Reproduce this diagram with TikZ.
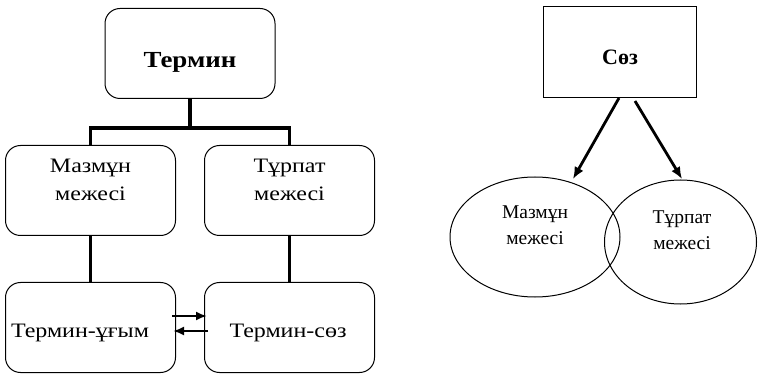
\documentclass[tikz,border=0pt]{standalone}
\usepackage{fontspec}
\setmainfont{Liberation Serif}
\usetikzlibrary{arrows.meta,shapes.geometric}
\newcommand\hstretch[1]{\scalebox{1.17}[1]{#1}}
\begin{document}
\begin{tikzpicture}[x=1pt,y=-1pt,
  rbox/.style={draw,line width=1pt,rounded corners=15pt,minimum width=170pt,minimum height=90pt,inner sep=0pt},
  sqbox/.style={draw,line width=1pt,minimum width=153pt,minimum height=91pt,inner sep=0pt},
  ell/.style={draw,ellipse,line width=1pt,inner sep=0pt},
  lbl/.style={font=\fontsize{20.5}{28}\selectfont,align=center,inner sep=0pt},
  slbl/.style={font=\fontsize{19.5}{26}\selectfont,align=center,inner sep=0pt},
  tree/.style={line width=3.8pt},
  arr/.style={line width=2.5pt,-{Latex[length=11pt,width=9pt]}},
  sarr/.style={line width=2.8pt,-{Latex[length=12pt,width=10pt]}}]
\useasboundingbox (0,0) rectangle (758,374);
% left tree
\node[rbox] (termin) at (190,53.5) {};
\node[font=\bfseries\fontsize{23}{28}\selectfont,inner sep=0pt] (tt) at (190,62) {\hstretch{Термин}};
\node[rbox] (mbox) at (90.5,190.5) {};
\node[lbl] (mt) at (90.5,180) {\hstretch{Мазмұн}\\\hstretch{межесі}};
\node[rbox] (tbox) at (289.5,190.5) {};
\node[lbl] (tt2) at (289.5,180) {\hstretch{Тұрпат}\\\hstretch{межесі}};
\node[rbox] (ubox) at (90.5,327.5) {};
\node[lbl] (ut) at (80,333) {\hstretch{Термин-ұғым}};
\node[rbox] (sbox) at (289.5,327.5) {};
\node[lbl] (st) at (288,333) {\hstretch{Термин-сөз}};
\coordinate (j) at (190,128);
\draw[tree] (termin.south) -- (j);
\draw[tree] (mbox.north) |- (j) -| (tbox.north);
\draw[tree] (mbox.south) -- (ubox.north);
\draw[tree] (tbox.south) -- (sbox.north);
\draw[arr] ([shift={(-4,-11.5)}]ubox.east) -- ([shift={(3,-11.5)}]sbox.west);
\draw[arr] ([shift={(4,3.5)}]sbox.west) -- ([shift={(-3,3.5)}]ubox.east);
% right diagram
\node[sqbox] (soz) at (620,52) {};
\node[font=\bfseries\fontsize{22}{26}\selectfont,inner sep=0pt] (sozt) at (620,57) {Сөз};
\node[ell,minimum width=170pt,minimum height=120pt] (me) at (535,237) {};
\node[ell,minimum width=152pt,minimum height=124pt] (te) at (680.5,242) {};
\node[slbl] (met) at (535,225.5) {Мазмұн\\межесі};
\node[slbl] (tet) at (682,230) {Тұрпат\\межесі};
\draw[sarr] ([shift={(-1,0)}]soz.south) -- ([shift={(38,-58)}]me.center);
\draw[sarr] ([shift={(15,3)}]soz.south) -- ([shift={(1.5,-63)}]te.center);
\end{tikzpicture}
\end{document}
